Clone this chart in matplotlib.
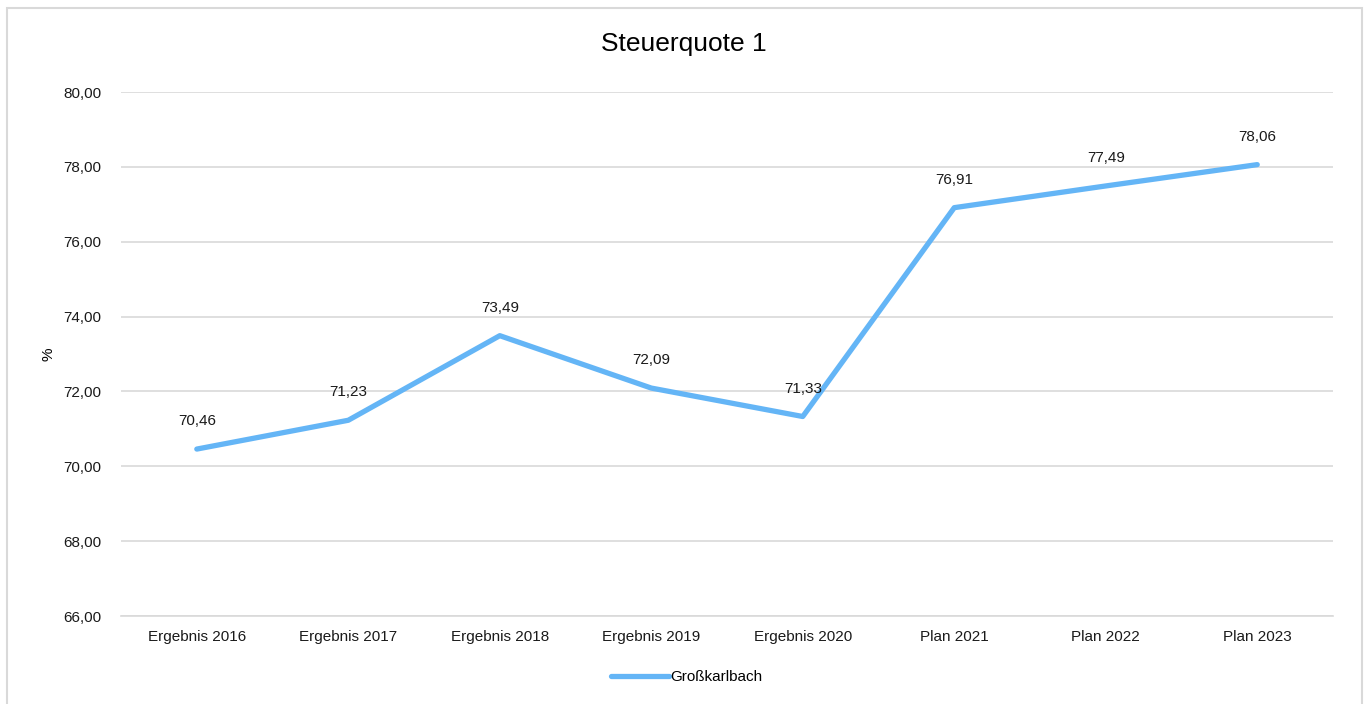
import matplotlib.pyplot as plt
from matplotlib.patches import Rectangle

plt.rcParams["font.family"] = ["Liberation Sans", "DejaVu Sans"]

categories = ["Ergebnis 2016", "Ergebnis 2017", "Ergebnis 2018", "Ergebnis 2019",
              "Ergebnis 2020", "Plan 2021", "Plan 2022", "Plan 2023"]
values = [70.46, 71.23, 73.49, 72.09, 71.33, 76.91, 77.49, 78.06]
y_ticks = [66, 68, 70, 72, 74, 76, 78, 80]
series_name = "Großkarlbach"

LINE = "#64b5f6"
GRID = "#d9d9d9"

fig = plt.figure(figsize=(13.68, 7.04), dpi=100)
ax = fig.add_axes([0.0885, 0.125, 0.8859, 0.7443])

x = list(range(len(categories)))
ax.plot(x, values, color=LINE, lw=3.8, solid_capstyle="round",
        solid_joinstyle="round", label=series_name, zorder=3)

for xi, v in zip(x, values):
    ax.annotate(f"{v:.2f}".replace(".", ","), (xi, v), xytext=(0, 20),
                textcoords="offset points", ha="center", va="center",
                fontsize=11, color="#1a1a1a")

ax.set_xlim(-0.5, len(categories) - 0.5)
ax.set_ylim(66, 80)
ax.set_xticks(x)
ax.set_xticklabels(categories, fontsize=11)
ax.set_yticks(y_ticks)
ax.set_yticklabels([f"{t:.2f}".replace(".", ",") for t in y_ticks], fontsize=11)
ax.tick_params(axis="both", length=0, colors="#1a1a1a")
ax.tick_params(axis="y", pad=14)
ax.tick_params(axis="x", pad=10)
ax.grid(axis="y", color=GRID, lw=1.2)
ax.set_axisbelow(True)
for s in ["top", "right", "left"]:
    ax.spines[s].set_visible(False)
ax.spines["bottom"].set_color(GRID)
ax.spines["bottom"].set_linewidth(1.2)

ax.set_ylabel("%", fontsize=11)
ax.yaxis.set_label_coords(-0.054, 0.5)

fig.suptitle("Steuerquote 1", fontsize=19, y=0.955, x=0.5)

fig.legend(loc="center", bbox_to_anchor=(0.502, 0.038), frameon=False,
           fontsize=11, handlelength=3.8, handletextpad=0.05)

fig.patches.append(Rectangle((7 / 1368, -0.01), 1355 / 1368, 1.01 - 8 / 704,
                             transform=fig.transFigure, fill=False,
                             edgecolor=GRID, lw=1.5))

fig.savefig("out.png", dpi=100)
